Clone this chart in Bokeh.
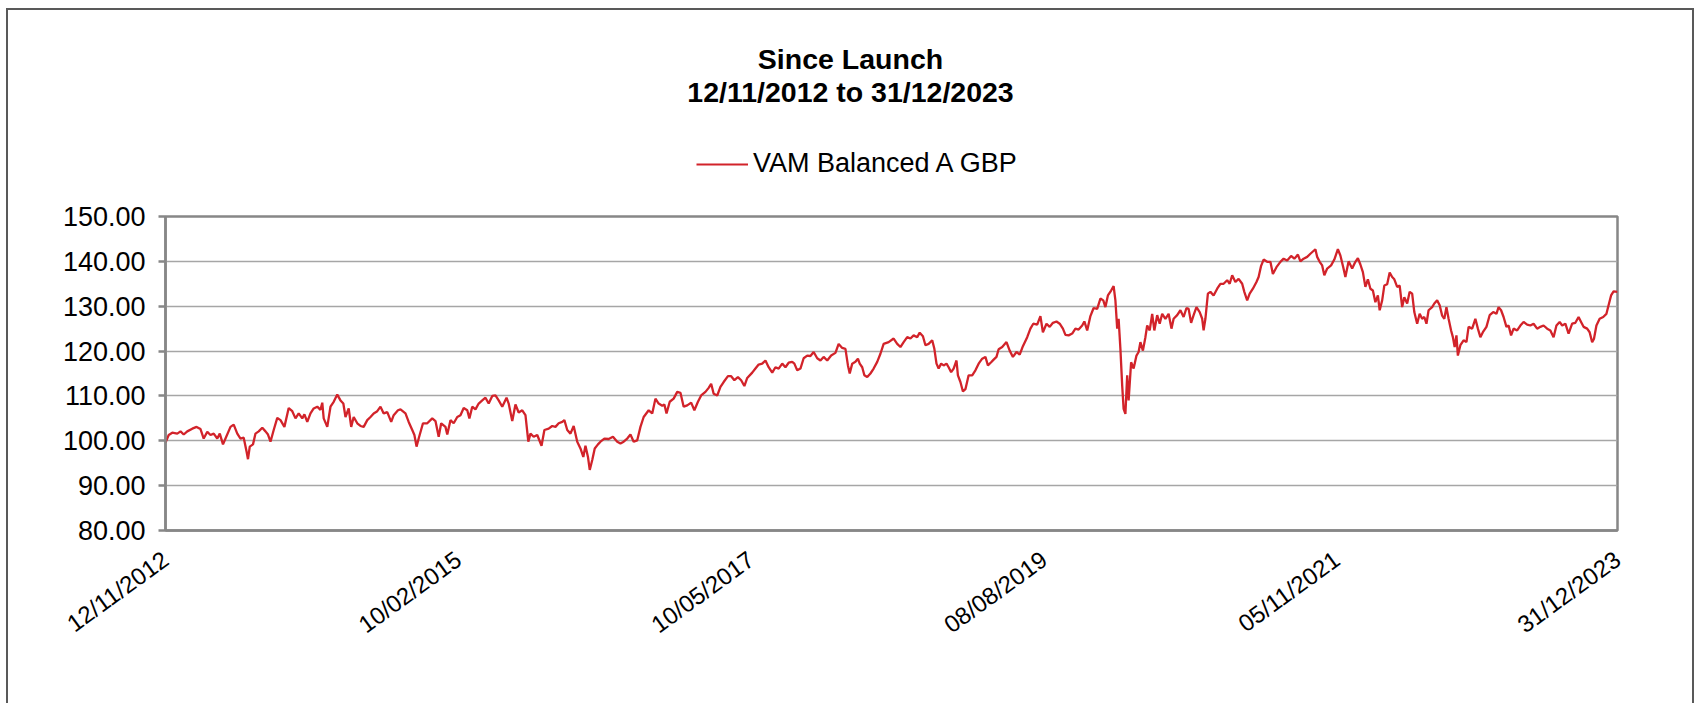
import math
import pandas as pd
from bokeh.plotting import figure
from bokeh.layouts import column
from bokeh.models import (Range1d, FixedTicker, Label, Legend, LegendItem,
                          ColumnDataSource, NumeralTickFormatter)
from bokeh.embed import file_html
from bokeh.resources import INLINE

# ---------------- data ----------------
title_line1 = "Since Launch"
title_line2 = "12/11/2012 to 31/12/2023"
series_name = "VAM Balanced A GBP"
launch_date = "12/11/2012"
end_date = "31/12/2023"
tick_dates = ["12/11/2012", "10/02/2015", "10/05/2017", "08/08/2019", "05/11/2021", "31/12/2023"]
y_ticks = [80, 90, 100, 110, 120, 130, 140, 150]

days_since_launch = [
    0, 9, 19, 33, 42, 51, 61, 75, 87, 98, 107, 117, 126, 135, 145, 152, 161, 168, 182, 191,
    201, 210, 219, 227, 231, 236, 245, 252, 261, 271, 280, 287, 294, 303, 313, 322, 333, 345, 355, 364,
    373, 383, 389, 397, 406, 415, 425, 434, 439, 443, 453, 462, 471, 481, 490, 498, 504, 513, 520, 527,
    537, 546, 555, 565, 574, 583, 593, 602, 611, 621, 632, 639, 651,
    658, 672, 681, 691, 697, 703, 709, 721, 733, 747, 756, 765, 772, 784, 789, 798, 807, 817, 826, 835,
    845, 851, 859, 868, 877, 887, 896, 905, 915, 924, 933, 943, 955, 961, 971, 980, 989, 999, 1008, 1016,
    1022, 1031, 1041, 1053, 1061, 1073, 1083, 1092, 1101, 1111, 1117, 1125, 1134, 1143, 1153, 1162, 1170,
    1176, 1183, 1188, 1195, 1202, 1211, 1218, 1229, 1241, 1253, 1265, 1274, 1283, 1293, 1302, 1311, 1321,
    1330, 1339, 1353, 1363, 1372, 1381, 1391, 1397, 1403, 1412, 1423, 1433, 1442, 1451, 1461, 1472, 1481,
    1491, 1500, 1512, 1521, 1528, 1535, 1545, 1554, 1563, 1575, 1584, 1593, 1603, 1612, 1621, 1629, 1643,
    1652, 1661, 1671, 1680, 1689, 1699, 1708, 1717, 1727, 1736, 1745, 1755, 1761, 1769, 1778, 1787, 1797,
    1806, 1815, 1825, 1834, 1843, 1853, 1864, 1876, 1885, 1895, 1904, 1911, 1916, 1923, 1932, 1939, 1944,
    1951, 1957, 1965, 1974, 1983, 1993,
    2002, 2011, 2025, 2039, 2049, 2058, 2067, 2077, 2086, 2095, 2105, 2112, 2121, 2128, 2137, 2147, 2153,
    2159, 2165, 2172, 2179, 2187, 2193, 2200, 2207, 2215, 2219, 2226, 2233, 2240, 2249, 2259, 2268, 2277,
    2287, 2296, 2303, 2312, 2319, 2327, 2333, 2343, 2355, 2364, 2373, 2383, 2392, 2401, 2413, 2422, 2430,
    2441, 2450, 2457, 2467, 2476, 2485, 2495, 2504, 2513, 2520, 2529, 2539, 2548, 2557, 2567, 2573, 2581,
    2590, 2599, 2609, 2618, 2626, 2632, 2639, 2648, 2655, 2660, 2665, 2669,
    2674, 2679, 2683, 2688, 2693, 2697, 2704, 2711, 2719, 2725, 2730, 2737, 2744, 2749, 2756, 2763, 2769,
    2777, 2784, 2791, 2800, 2809, 2817, 2823, 2833, 2842, 2851, 2859, 2865, 2872, 2879, 2887, 2896, 2903,
    2907, 2912, 2919, 2926, 2935, 2945, 2954, 2963, 2973, 2980, 2987, 2996, 3005, 3015, 3021, 3029, 3036,
    3045, 3055, 3061, 3068, 3075, 3085, 3094, 3101, 3111, 3122, 3131, 3141, 3152, 3161, 3171, 3178, 3187,
    3197, 3206, 3213, 3220, 3225, 3232, 3239, 3245, 3253, 3264, 3273, 3283, 3290, 3298, 3304, 3313, 3323,
    3332, 3339,
    3346, 3353, 3360, 3367, 3374, 3381, 3388, 3395, 3400, 3407, 3413, 3421, 3428, 3435, 3441, 3449, 3456,
    3463, 3469, 3477, 3484, 3491, 3497, 3505, 3512, 3519, 3525, 3531, 3537, 3547, 3553, 3561, 3568, 3575,
    3581, 3587, 3593, 3600, 3605, 3610, 3615, 3619, 3626, 3635, 3643, 3649, 3659, 3668, 3675, 3682, 3689,
    3699, 3708, 3718, 3727, 3733, 3740, 3747, 3755, 3761, 3768, 3775, 3785, 3794, 3803, 3813, 3822, 3831,
    3841, 3850, 3859, 3869, 3878, 3887, 3895, 3904, 3911, 3920, 3929, 3939, 3948, 3957, 3964, 3971, 3981,
    3988, 3995, 4000, 4007, 4016, 4026, 4035, 4041, 4048, 4055, 4066,
]

price = [
    99.6, 101.3, 101.8, 101.6, 102.1, 101.4, 102.1, 102.7, 103.1, 102.6, 100.5, 102.0, 101.3, 101.6, 100.5, 101.6, 99.2, 100.5, 103.1, 103.6,
    101.6, 100.5, 100.7, 97.6, 95.9, 98.7, 99.2, 101.6, 102.1, 102.9, 102.1, 101.4, 99.8, 102.4, 105.1, 104.6, 103.1, 107.3, 106.6, 105.0,
    106.1, 105.0, 105.9, 104.2, 106.1, 107.2, 107.6, 106.9, 108.5, 105.0, 103.1, 107.6, 108.7, 110.3, 109.0, 108.3, 105.3, 107.2, 103.1, 105.3,
    103.9, 103.3, 103.1, 104.6, 105.3, 106.1, 106.6, 107.6, 106.1, 106.4, 104.2, 105.7, 106.8,
    107.0, 106.1, 104.2, 102.4, 101.3, 98.7, 100.5, 103.9, 103.9, 105.0, 104.4, 100.9, 103.9, 103.1, 101.4, 104.6, 103.9, 105.3, 105.7, 107.3,
    106.8, 105.0, 107.6, 107.0, 108.3, 109.0, 109.6, 108.3, 110.0, 110.1, 109.0, 107.6, 109.6, 108.3, 104.4, 108.1, 106.3, 106.8, 105.7, 99.8,
    101.6, 100.9, 101.3, 98.9, 102.4, 102.7, 103.3, 103.1, 103.9, 104.2, 104.6, 102.4, 101.6, 103.3, 99.8, 98.3, 96.4,
    98.9, 96.4, 93.5, 95.7, 98.3, 99.2, 99.8, 100.5, 100.4, 100.9, 99.8, 99.4, 99.8, 100.5, 101.4, 99.8, 100.1,
    103.1, 105.3, 106.8, 106.1, 109.4, 108.3, 107.8, 108.1, 106.1, 108.7, 109.4, 110.9, 110.7, 107.6, 107.9, 108.5, 106.8,
    108.7, 110.1, 110.9, 111.8, 112.7, 110.5, 110.1, 112.0, 113.1, 114.4, 114.4, 113.5, 114.2, 113.5, 112.2, 114.0, 115.2,
    116.1, 117.0, 117.2, 117.9, 116.4, 115.2, 116.4, 116.1, 117.2, 116.4, 117.4, 117.6, 117.2, 115.7, 116.1, 118.4, 119.0,
    118.9, 119.8, 118.4, 117.9, 118.7, 117.9, 119.0, 119.6, 121.6, 120.7, 120.5, 116.8, 115.0, 117.2, 117.6, 118.3, 117.2,
    116.4, 114.6, 114.2, 115.0, 116.1, 117.6,
    119.4, 121.6, 122.0, 122.8, 121.6, 120.9, 122.0, 123.1, 122.8, 123.5, 123.1, 124.1, 123.3, 121.3, 121.6, 122.4, 120.5,
    117.2, 116.1, 117.2, 116.8, 117.2, 116.4, 115.3, 116.1, 117.9, 114.6, 113.1, 111.0, 111.5, 114.6, 114.6, 115.7, 117.2,
    118.3, 118.7, 116.8, 117.5, 118.1, 118.7, 120.4, 120.9, 122.0, 120.1, 118.7, 119.8, 119.2, 121.1, 123.1, 125.0, 126.1,
    125.9, 127.8, 124.2, 126.1, 125.4, 126.3, 126.6, 126.1, 125.0, 123.6, 123.5, 123.9, 125.0, 124.8, 125.7, 126.6, 124.6,
    127.8, 129.6, 129.4, 131.7, 131.3, 129.8, 132.4, 133.5, 134.5, 131.3, 125.0, 127.2,
    120.5, 112.3, 107.1, 106.0, 114.6, 109.0, 117.5, 116.1, 119.0, 119.8, 122.0, 120.1, 123.1, 125.7, 124.6, 128.3, 124.6,
    128.0, 126.1, 128.3, 127.2, 128.3, 125.0, 127.2, 128.0, 129.1, 127.6, 129.6, 129.4, 126.3, 128.0, 129.8, 128.7, 127.2,
    124.6, 127.2, 132.8, 133.2, 132.4, 133.9, 135.0, 135.0, 135.8, 135.0, 136.9, 135.4, 136.1, 135.0, 133.2, 131.3, 132.8,
    133.9, 135.4, 136.5, 139.0, 140.4, 139.9, 139.9, 137.2, 138.7, 139.9, 140.6, 140.2, 141.2, 140.6, 141.5, 140.0, 140.6,
    141.0, 141.7, 142.2, 142.7, 141.0, 139.9, 139.1, 136.9, 138.4, 139.1, 140.4, 142.7, 141.3, 138.7, 136.5, 140.0, 138.4,
    139.9, 140.7,
    139.3, 137.6, 134.3, 136.0, 133.9, 133.5, 130.9, 132.4, 129.1, 131.3, 134.6, 134.9, 137.5, 136.5, 136.0, 134.3, 134.6,
    129.8, 132.0, 130.6, 133.2, 132.8, 128.7, 126.1, 128.3, 127.2, 127.6, 126.1, 129.1, 129.8, 130.6, 131.3, 130.2, 127.9,
    127.2, 129.8, 127.2, 124.6, 123.1, 120.9, 123.5, 119.0, 121.3, 122.4, 122.0, 125.4, 125.0, 127.2, 125.0, 123.1, 124.2,
    125.4, 128.0, 128.7, 128.3, 129.8, 129.1, 127.6, 125.4, 125.7, 123.5, 125.0, 124.6, 125.7, 126.5, 125.9, 125.7, 126.1,
    125.0, 125.4, 125.7, 125.0, 124.6, 123.1, 125.7, 126.5, 125.7, 126.1, 123.9, 126.1, 126.3, 127.6, 126.5, 125.4, 125.0,
    124.2, 122.0, 122.7, 125.7, 127.2, 127.6, 128.3, 130.2, 132.4, 133.3, 133.2,
]

# ---------------- style ----------------
FONT = "Liberation Sans"
GRAY = "#878787"
RED = "#d2232a"
BORDER = "2px solid #595959"
W = 1688          # inner width of the chart box
HEAD_H = 170      # header strip (title + legend)
MAIN_H = 525      # plot strip

launch = pd.to_datetime(launch_date, dayfirst=True)
end = pd.to_datetime(end_date, dayfirst=True)
dates = launch + pd.to_timedelta(days_since_launch, unit="D")
source = ColumnDataSource(data=dict(x=dates, y=price))

# ---------------- header (title + legend) ----------------
# its frame is aligned with the main plot frame by the column layout
hdr = figure(width=W, height=HEAD_H, output_backend="svg", toolbar_location=None,
             x_range=Range1d(0, 1), y_range=Range1d(0, 1),
             x_axis_location=None, y_axis_location=None,
             min_border=0, min_border_left=0, min_border_right=0,
             min_border_top=0, min_border_bottom=0)
hdr.styles = {"margin-left": "6px", "margin-top": "8px",
              "border-left": BORDER, "border-top": BORDER, "border-right": BORDER}
hdr.grid.visible = False
hdr.outline_line_color = None
hdr.background_fill_color = "white"
hdr.border_fill_color = "white"

for txt, yy in ((title_line1, 122), (title_line2, 89)):
    hdr.add_layout(Label(x=685, y=yy, x_units="screen", y_units="screen",
                         text=txt, text_align="center",
                         text_baseline="alphabetic", text_font=FONT,
                         text_font_style="bold", text_font_size="28.5px",
                         text_color="black"))

# legend key: the same series (falls outside this strip's ranges, so only the key shows)
key = hdr.line("x", "y", source=source, line_color=RED, line_width=2)
legend = Legend(items=[LegendItem(label=series_name, renderers=[key])],
                location=(531, 1), orientation="horizontal",
                label_text_font=FONT, label_text_font_size="27px",
                label_text_color="black",
                glyph_width=52, glyph_height=30, label_height=30,
                label_standoff=5, padding=0, margin=0, spacing=0,
                border_line_alpha=0, background_fill_alpha=0)
hdr.add_layout(legend)

# ---------------- main plot ----------------
p = figure(width=W, height=MAIN_H, x_axis_type="datetime",
           output_backend="svg", toolbar_location=None,
           x_range=Range1d(launch.to_pydatetime(), end.to_pydatetime()),
           y_range=Range1d(y_ticks[0], y_ticks[-1]),
           min_border_left=157, min_border_right=79,
           min_border_top=38, min_border_bottom=173)
p.styles = {"margin-left": "6px", "border-left": BORDER, "border-right": BORDER}
p.background_fill_color = "white"
p.border_fill_color = "white"
p.outline_line_color = GRAY
p.outline_line_width = 2.5

p.line("x", "y", source=source, line_color=RED, line_width=2.3)

# x axis
tick_ts = [pd.to_datetime(d, dayfirst=True) for d in tick_dates]
tick_ms = [t.value / 1e6 for t in tick_ts]
p.xaxis.ticker = FixedTicker(ticks=tick_ms)
p.xaxis.major_label_overrides = {ms: lab for ms, lab in zip(tick_ms, tick_dates)}
p.xaxis.major_label_orientation = math.radians(36)
p.xaxis.major_label_text_font = FONT
p.xaxis.major_label_text_font_size = "24px"
p.xaxis.major_label_text_color = "black"
p.xaxis.major_label_standoff = 26
p.xaxis.major_tick_out = 0
p.xaxis.major_tick_in = 0
p.xaxis.minor_tick_line_color = None
p.xaxis.axis_line_color = GRAY
p.xaxis.axis_line_width = 2.5

# y axis
p.yaxis.ticker = FixedTicker(ticks=y_ticks)
p.yaxis.formatter = NumeralTickFormatter(format="0.00")
p.yaxis.major_label_text_font = FONT
p.yaxis.major_label_text_font_size = "27px"
p.yaxis.major_label_text_color = "black"
p.yaxis.major_label_standoff = 13
p.yaxis.major_tick_out = 7
p.yaxis.major_tick_in = 0
p.yaxis.major_tick_line_color = GRAY
p.yaxis.major_tick_line_width = 2.5
p.yaxis.minor_tick_line_color = None
p.yaxis.axis_line_color = GRAY
p.yaxis.axis_line_width = 2.5

p.xgrid.visible = False
p.ygrid.grid_line_color = "#a6a6a6"
p.ygrid.grid_line_width = 1.3

layout = column(hdr, p, spacing=0)
open("out.html", "w").write(file_html(layout, INLINE))
